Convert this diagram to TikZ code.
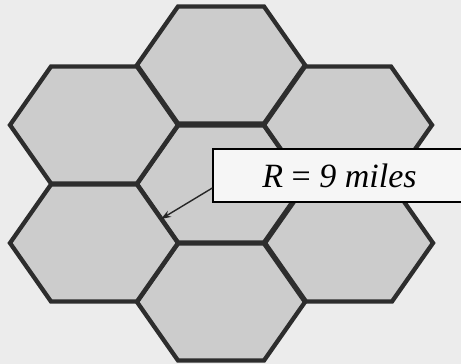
\documentclass[tikz,border=0pt]{standalone}
\usepackage{fontspec}
\setmainfont{Liberation Serif}
\usetikzlibrary{arrows.meta}
\definecolor{bgc}{RGB}{236,236,236}
\definecolor{hexfill}{RGB}{204,204,204}
\definecolor{hexline}{RGB}{45,45,45}
\definecolor{boxfill}{RGB}{246,246,246}
\tikzset{
  hexcell/.style={fill=hexfill, draw=hexline, line width=4.3pt, line join=miter},
  labelbox/.style={draw=black, line width=1.3pt, fill=boxfill, minimum width=257pt,
    minimum height=53pt, inner sep=0pt, font=\fontsize{34}{37}\selectfont},
  pointer/.style={draw=black!85, line width=1.4pt, -{Stealth[length=10pt,width=7pt]}}
}
\begin{document}
\begin{tikzpicture}[x=1pt,y=-1pt]
\useasboundingbox (0,0) rectangle (461,364);
\clip (0,0) rectangle (461,364);
\fill[bgc] (0,0) rectangle (461,364);
\foreach \cx/\cy in {221/65,221/184,221/302,94/125,94/243,348/125,349/243}{
  \path[hexcell] (\cx-84,\cy) -- (\cx-43,\cy-58.5) -- (\cx+43,\cy-58.5) -- (\cx+84,\cy)
    -- (\cx+43,\cy+58.5) -- (\cx-43,\cy+58.5) -- cycle;
}
\node[labelbox] (lbl) at (341.5,175.5) {\hspace*{-4pt}\textit{R} = \textit{9 miles}};
\coordinate (tip) at (161,219);
\draw[pointer] ([yshift=-12.5pt]lbl.west) -- (tip);
\end{tikzpicture}
\end{document}
